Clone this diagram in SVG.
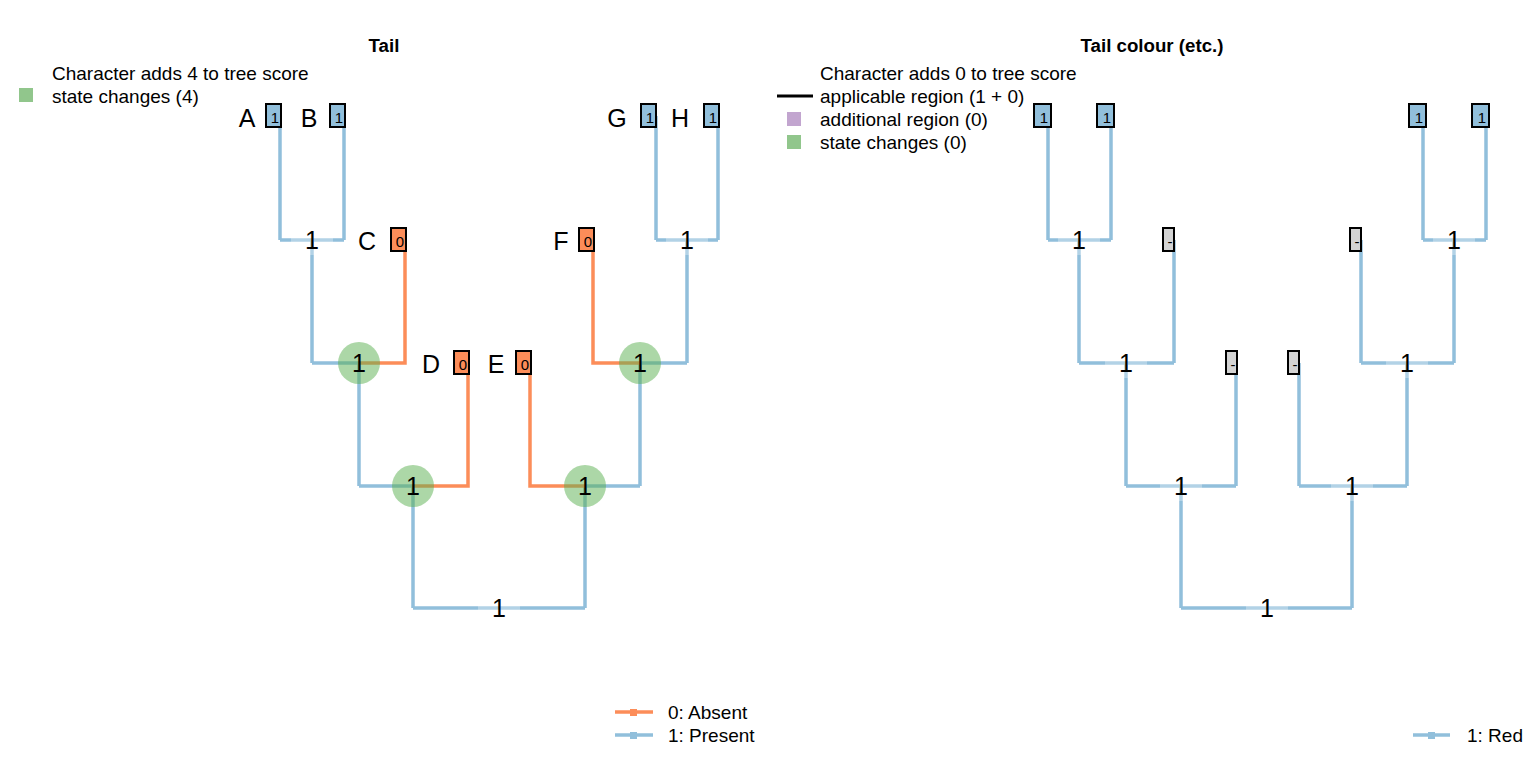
<svg xmlns="http://www.w3.org/2000/svg" width="1536" height="768" viewBox="0 0 1536 768">
<style>
text{font-family:"Liberation Sans",Arial,sans-serif;fill:#000}
.t{font-size:19px}
.ttl{font-size:18.7px;font-weight:bold;text-anchor:middle}
.tip{font-size:25px;text-anchor:middle}
.nl{font-size:25px;text-anchor:middle}
.bx{font-size:15px;text-anchor:middle}
.b{stroke:#91bfdb;stroke-width:3.5;fill:none}
.o{stroke:#fc8d59;stroke-width:3.5;fill:none}
.boxb{fill:#91bfdb;stroke:#000;stroke-width:2}
.boxo{fill:#fc8d59;stroke:#000;stroke-width:2}
.boxg{fill:#d3d3d3;stroke:#000;stroke-width:2}
.chg{fill:#5aaf50;opacity:0.5}
.hl{fill:#fff;opacity:0.3}
</style>
<rect width="1536" height="768" fill="#fff"/>
<text class="ttl" x="384" y="52">Tail</text>
<text class="ttl" x="1152" y="52">Tail colour (etc.)</text>

<g id="legend-left">
<text class="t" x="52" y="80">Character adds 4 to tree score</text>
<rect x="19" y="88" width="14" height="14" fill="#91c68c"/>
<text class="t" x="52" y="103">state changes (4)</text>
</g>
<g id="legend-right">
<text class="t" x="820" y="80">Character adds 0 to tree score</text>
<line x1="777" y1="96" x2="813" y2="96" stroke="#000" stroke-width="3"/>
<text class="t" x="820" y="103">applicable region (1 + 0)</text>
<rect x="787" y="112" width="14" height="14" fill="#c2a5cf"/>
<text class="t" x="820" y="126">additional region (0)</text>
<rect x="787" y="135" width="14" height="14" fill="#91c68c"/>
<text class="t" x="820" y="149">state changes (0)</text>
</g>

<g id="connectors">
<path class="b" d="M280,116V240M344,116V240M280,240H344M312,240V363M312,363H359M359,363V486M359,486H413M413,486V608M413,608H585M585,608V486M585,486H640M640,486V363M640,363H687M687,363V240M656,240H718M656,116V240M718,116V240"/>
<path class="o" d="M359,363H405V240M413,486H468V363M585,486H530V363M640,363H593V240"/>
<path class="b" d="M1048,116V240M1111,116V240M1048,240H1111M1079,240V363M1079,363H1174M1174,240V363M1126,363V486M1126,486H1236M1236,363V486M1181,486V608M1181,608H1352M1352,608V486M1299,486H1407M1299,363V486M1407,486V363M1361,363H1454M1361,240V363M1454,363V240M1423,240H1486M1423,116V240M1486,116V240"/>
</g>

<g id="changes">
<circle class="chg" cx="359" cy="363" r="21"/>
<circle class="chg" cx="413" cy="486" r="21"/>
<circle class="chg" cx="585" cy="486" r="21"/>
<circle class="chg" cx="640" cy="363" r="21"/>
</g>

<g id="left-tips">
<g id="tipA"><text class="tip" x="247" y="127">A</text><rect class="boxb" x="266" y="104" width="15" height="23"/><text class="bx" x="275" y="123">1</text></g>
<g id="tipB"><text class="tip" x="309" y="127">B</text><rect class="boxb" x="330" y="104" width="15" height="23"/><text class="bx" x="339" y="123">1</text></g>
<g id="tipC"><text class="tip" x="367" y="250">C</text><rect class="boxo" x="391" y="228" width="15" height="23"/><text class="bx" x="400" y="247">0</text></g>
<g id="tipD"><text class="tip" x="431" y="373">D</text><rect class="boxo" x="454" y="351" width="15" height="23"/><text class="bx" x="463" y="370">0</text></g>
<g id="tipE"><text class="tip" x="496" y="373">E</text><rect class="boxo" x="516" y="351" width="15" height="23"/><text class="bx" x="525" y="370">0</text></g>
<g id="tipF"><text class="tip" x="561" y="250">F</text><rect class="boxo" x="579" y="228" width="15" height="23"/><text class="bx" x="588" y="247">0</text></g>
<g id="tipG"><text class="tip" x="617" y="127">G</text><rect class="boxb" x="641" y="104" width="15" height="23"/><text class="bx" x="650" y="123">1</text></g>
<g id="tipH"><text class="tip" x="680" y="127">H</text><rect class="boxb" x="704" y="104" width="15" height="23"/><text class="bx" x="713" y="123">1</text></g>
</g>

<g id="left-nodes">
<g id="nAB"><rect class="hl" x="291" y="227" width="42" height="28"/><text class="nl" x="312" y="249">1</text></g>
<g id="nABC"><text class="nl" x="359" y="372">1</text></g>
<g id="nABCD"><text class="nl" x="413" y="495">1</text></g>
<g id="nRootL"><rect class="hl" x="478" y="595" width="42" height="28"/><text class="nl" x="499" y="617">1</text></g>
<g id="nEFGH"><text class="nl" x="585" y="495">1</text></g>
<g id="nFGH"><text class="nl" x="640" y="372">1</text></g>
<g id="nGH"><rect class="hl" x="666" y="227" width="42" height="28"/><text class="nl" x="687" y="249">1</text></g>
</g>

<g id="right-tips">
<g id="rA"><rect class="boxb" x="1034" y="104" width="17" height="23"/><text class="bx" x="1044" y="123">1</text></g>
<g id="rB"><rect class="boxb" x="1097" y="104" width="17" height="23"/><text class="bx" x="1107" y="123">1</text></g>
<g id="rC"><rect class="boxg" x="1163" y="228" width="11" height="23"/><text class="bx" x="1170" y="247">-</text></g>
<g id="rD"><rect class="boxg" x="1226" y="351" width="11" height="23"/><text class="bx" x="1233" y="370">-</text></g>
<g id="rE"><rect class="boxg" x="1288" y="351" width="11" height="23"/><text class="bx" x="1295" y="370">-</text></g>
<g id="rF"><rect class="boxg" x="1350" y="228" width="11" height="23"/><text class="bx" x="1357" y="247">-</text></g>
<g id="rG"><rect class="boxb" x="1409" y="104" width="17" height="23"/><text class="bx" x="1419" y="123">1</text></g>
<g id="rH"><rect class="boxb" x="1472" y="104" width="17" height="23"/><text class="bx" x="1482" y="123">1</text></g>
</g>

<g id="right-nodes">
<g><rect class="hl" x="1058" y="227" width="42" height="28"/><text class="nl" x="1079" y="249">1</text></g>
<g><rect class="hl" x="1105" y="350" width="42" height="28"/><text class="nl" x="1126" y="372">1</text></g>
<g><rect class="hl" x="1160" y="473" width="42" height="28"/><text class="nl" x="1181" y="495">1</text></g>
<g><rect class="hl" x="1246" y="595" width="42" height="28"/><text class="nl" x="1267" y="617">1</text></g>
<g><rect class="hl" x="1331" y="473" width="42" height="28"/><text class="nl" x="1352" y="495">1</text></g>
<g><rect class="hl" x="1386" y="350" width="42" height="28"/><text class="nl" x="1407" y="372">1</text></g>
<g><rect class="hl" x="1433" y="227" width="42" height="28"/><text class="nl" x="1454" y="249">1</text></g>
</g>

<g id="legend-bottom">
<line class="o" x1="615" y1="712" x2="653" y2="712"/><rect x="630" y="709" width="7" height="7" fill="#fc8d59"/>
<text class="t" x="668" y="719">0: Absent</text>
<line class="b" x1="615" y1="735" x2="653" y2="735"/><rect x="630" y="732" width="7" height="7" fill="#91bfdb"/>
<text class="t" x="668" y="742">1: Present</text>
<line class="b" x1="1413" y1="735" x2="1450" y2="735"/><rect x="1428" y="732" width="7" height="7" fill="#91bfdb"/>
<text class="t" x="1467" y="742">1: Red</text>
</g>
</svg>
